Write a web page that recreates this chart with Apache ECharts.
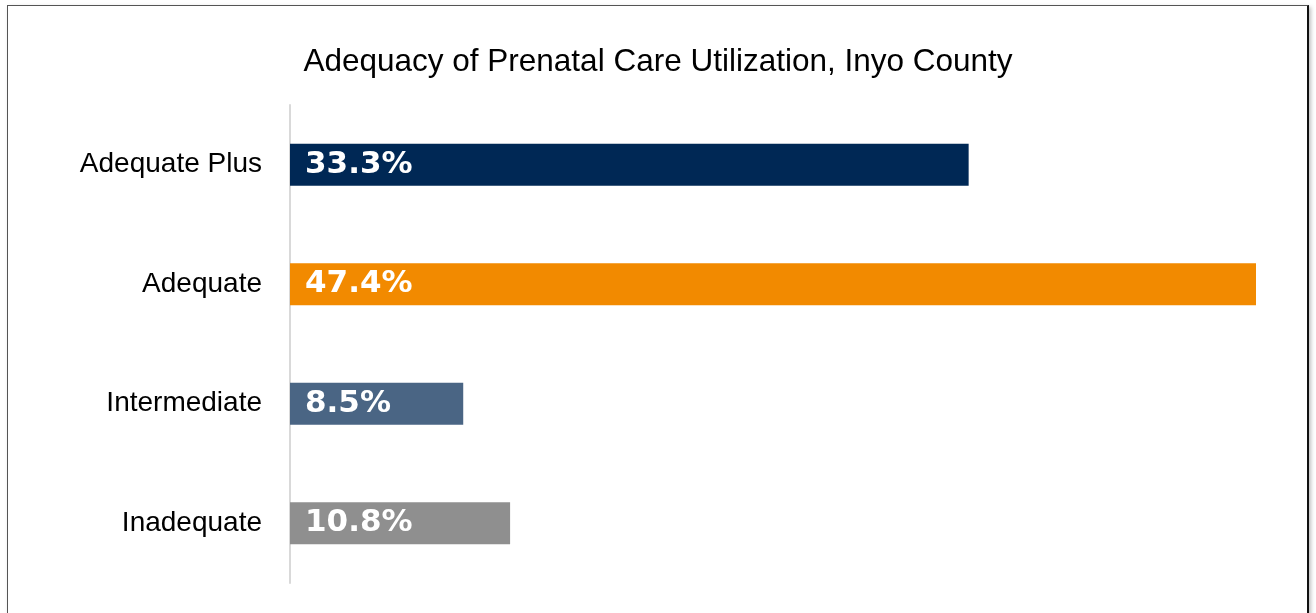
<!DOCTYPE html>
<html>
<head>
<meta charset="utf-8">
<script src="https://cdn.jsdelivr.net/npm/echarts@6/dist/echarts.min.js"></script>
<style>
    html, body { margin: 0; padding: 0; background: #fff; }
    #frame {
        position: absolute; left: 7px; top: 5px; width: 1299px; height: 640px;
        border: 1px solid #555; border-right: 2px solid #111;
        box-shadow: 2px 2px 4px rgba(0,0,0,0.25);
    }
    #bar1 { position: absolute; left: 0; top: 0; width: 1316px; height: 613px; }
</style>
</head>
<body>
<div id="frame"></div>
<div id="bar1"></div>
<script>
// 条形图数据
var categories = ['Adequate Plus', 'Adequate', 'Intermediate', 'Inadequate'];
var percents = [33.3, 47.4, 8.5, 10.8];
var barColors = ['#002855', '#F28A00', '#4A6584', '#8F8F8F'];

(function(){

    var myChart = echarts.init(document.getElementById("bar1"));

    var option = {
        backgroundColor: 'transparent',
        title: {
            text: 'Adequacy of Prenatal Care Utilization, Inyo County',
            left: 'center',
            top: 41,
            textStyle: {
                fontFamily: 'Liberation Sans',
                fontWeight: 'normal',
                fontSize: 31.5,
                color: '#000'
            }
        },
        grid: {
            left: 290,
            right: 60,
            top: 105,
            bottom: 30
        },
        xAxis: {
            type: 'value',
            min: 0,
            max: 47.4,
            show: false
        },
        yAxis: {
            type: 'category',
            inverse: true,
            data: categories,
            axisLine: { lineStyle: { color: '#d9d9d9', width: 2 } },
            axisTick: { show: false },
            axisLabel: {
                margin: 28,
                padding: [10, 0, 0, 0],
                fontFamily: 'Liberation Sans',
                fontSize: 28,
                color: '#000'
            }
        },
        series: [
            {
                type: 'bar',
                barWidth: 42,
                data: percents.map(function(v, i){
                    return { value: v, itemStyle: { color: barColors[i] } };
                }),
                label: {
                    show: true,
                    position: 'insideLeft',
                    distance: 15,
                    padding: [7, 0, 0, 0],
                    formatter: function(p){ return p.value.toFixed(1) + '%'; },
                    fontFamily: 'DejaVu Sans',
                    fontWeight: 'bold',
                    fontSize: 31,
                    color: '#fff'
                }
            }
        ]
    };

    myChart.setOption(option);
})();
</script>
</body>
</html>
